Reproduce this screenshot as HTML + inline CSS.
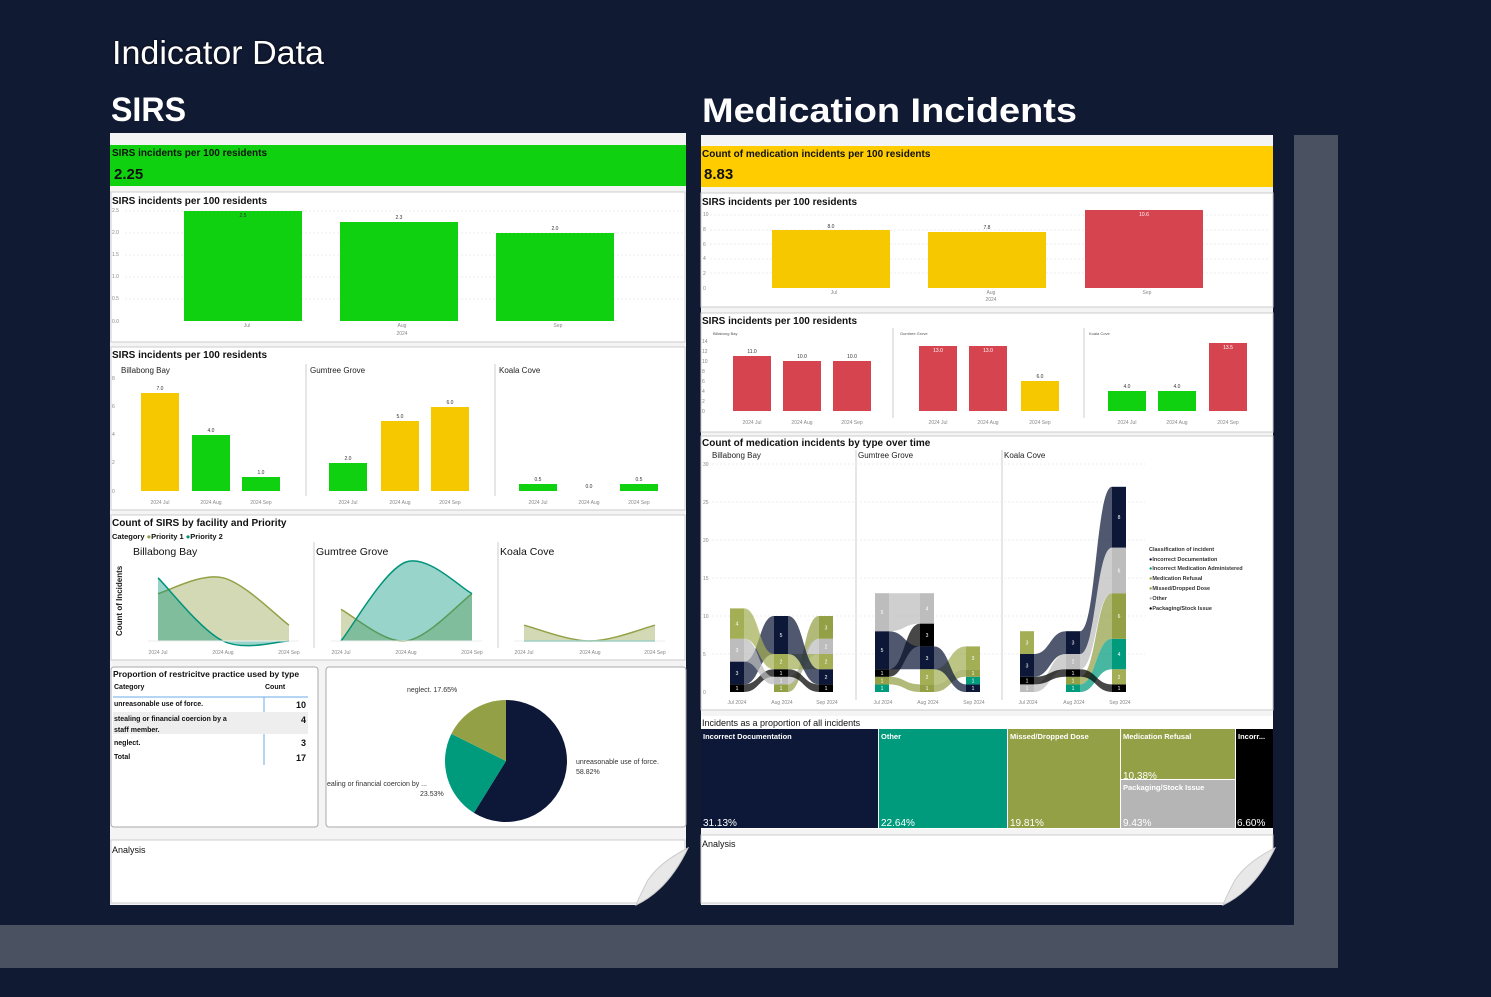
<!DOCTYPE html>
<html><head><meta charset="utf-8"><style>
html,body{margin:0;padding:0;background:#111a33;}
svg{display:block;font-family:"Liberation Sans",sans-serif;}
.t{font-size:10px;font-weight:bold;fill:#111;}
.s{font-size:5px;fill:#888;}
.l{font-size:5px;fill:#333;}
</style></head><body>
<svg id="s" width="1491" height="997" viewBox="0 0 1491 997" xmlns="http://www.w3.org/2000/svg">
<rect width="1491" height="997" fill="#111a33"/>
<rect x="1294" y="135" width="44" height="790" fill="#4a5262"/>
<rect x="0" y="925" width="1338" height="43" fill="#4a5262"/>
<text x="112" y="64" font-size="33" fill="#fff" textLength="212" lengthAdjust="spacingAndGlyphs" style="text-shadow:0 0 2px #000">Indicator Data</text>
<text x="111" y="121" font-size="34" font-weight="bold" fill="#fff" textLength="75" lengthAdjust="spacingAndGlyphs">SIRS</text>
<text x="702" y="122" font-size="34" font-weight="bold" fill="#fff" textLength="375" lengthAdjust="spacingAndGlyphs">Medication Incidents</text>

<!-- LEFT PANEL -->
<rect x="110" y="133" width="576" height="772" fill="#f4f4f4"/>
<rect x="110" y="145" width="576" height="41" fill="#0fd10f"/>
<text x="112" y="156" class="t">SIRS incidents per 100 residents</text>
<text x="114" y="179" font-size="15" font-weight="bold" fill="#111">2.25</text>

<rect x="111" y="192" width="574" height="150" fill="#fff" stroke="#ccc"/>
<text x="112" y="204" class="t" font-weight="normal">SIRS incidents per 100 residents</text>
<g class="s"><text x="112" y="212">2.5</text><text x="112" y="234">2.0</text><text x="112" y="256">1.5</text><text x="112" y="278">1.0</text><text x="112" y="300">0.5</text><text x="112" y="323">0.0</text></g>
<g stroke="#eee" stroke-dasharray="2,2"><line x1="125" y1="211" x2="684" y2="211"/><line x1="125" y1="233" x2="684" y2="233"/><line x1="125" y1="255" x2="684" y2="255"/><line x1="125" y1="277" x2="684" y2="277"/><line x1="125" y1="299" x2="684" y2="299"/></g>
<rect x="184" y="211" width="118" height="110" fill="#0fd10f"/>
<rect x="340" y="222" width="118" height="99" fill="#0fd10f"/>
<rect x="496" y="233" width="118" height="88" fill="#0fd10f"/>
<g class="l" text-anchor="middle"><text x="243" y="217">2.5</text><text x="399" y="219">2.3</text><text x="555" y="230">2.0</text>
<text x="247" y="327" class="s">Jul</text><text x="402" y="327" class="s">Aug</text><text x="402" y="335" class="s">2024</text><text x="558" y="327" class="s">Sep</text></g>

<rect x="111" y="347" width="574" height="163" fill="#fff" stroke="#ccc"/>
<text x="112" y="358" class="t" font-weight="normal">SIRS incidents per 100 residents</text>
<g font-size="8" fill="#222"><text x="121" y="373">Billabong Bay</text><text x="310" y="373">Gumtree Grove</text><text x="499" y="373">Koala Cove</text></g>
<g stroke="#ccc"><line x1="306" y1="364" x2="306" y2="496"/><line x1="495" y1="364" x2="495" y2="496"/></g>
<g class="s"><text x="112" y="380">8</text><text x="112" y="408">6</text><text x="112" y="436">4</text><text x="112" y="464">2</text><text x="112" y="493">0</text></g>
<g fill="#f5c800"><rect x="141" y="393" width="38" height="98"/><rect x="381" y="421" width="38" height="70"/><rect x="431" y="407" width="38" height="84"/></g>
<g fill="#0fd10f"><rect x="192" y="435" width="38" height="56"/><rect x="242" y="477" width="38" height="14"/><rect x="329" y="463" width="38" height="28"/><rect x="519" y="484" width="38" height="7"/><rect x="620" y="484" width="38" height="7"/></g>
<g class="l" text-anchor="middle"><text x="160" y="390">7.0</text><text x="211" y="432">4.0</text><text x="261" y="474">1.0</text><text x="348" y="460">2.0</text><text x="400" y="418">5.0</text><text x="450" y="404">6.0</text><text x="538" y="481">0.5</text><text x="589" y="488">0.0</text><text x="639" y="481">0.5</text></g>
<g class="s" text-anchor="middle"><text x="160" y="504">2024 Jul</text><text x="211" y="504">2024 Aug</text><text x="261" y="504">2024 Sep</text><text x="348" y="504">2024 Jul</text><text x="400" y="504">2024 Aug</text><text x="450" y="504">2024 Sep</text><text x="538" y="504">2024 Jul</text><text x="589" y="504">2024 Aug</text><text x="639" y="504">2024 Sep</text></g>

<rect x="111" y="515" width="574" height="145" fill="#fff" stroke="#ccc"/>
<text x="112" y="526" class="t" font-weight="normal" font-size="9.5">Count of SIRS by facility and Priority</text>
<text x="112" y="539" font-size="7.5" font-weight="bold" fill="#111">Category <tspan fill="#93a045">●</tspan>Priority 1 <tspan fill="#00937a">●</tspan>Priority 2</text>
<g font-size="10.5" fill="#111"><text x="133" y="555">Billabong Bay</text><text x="316" y="555">Gumtree Grove</text><text x="500" y="555">Koala Cove</text></g>
<g stroke="#ccc"><line x1="314" y1="542" x2="314" y2="648"/><line x1="498" y1="542" x2="498" y2="648"/></g>
<text transform="translate(122,636) rotate(-90)" font-size="8" font-weight="bold" fill="#222">Count of Incidents</text>
<g id="area"></g>
<g class="s" text-anchor="middle"><text x="158" y="654">2024 Jul</text><text x="223" y="654">2024 Aug</text><text x="289" y="654">2024 Sep</text><text x="341" y="654">2024 Jul</text><text x="406" y="654">2024 Aug</text><text x="472" y="654">2024 Sep</text><text x="524" y="654">2024 Jul</text><text x="590" y="654">2024 Aug</text><text x="655" y="654">2024 Sep</text></g>

<rect x="111" y="667" width="207" height="160" rx="3" fill="#fff" stroke="#aaa"/>
<text x="113" y="677" font-size="8.5" font-weight="bold" fill="#111">Proportion of restricitve practice used by type</text>
<g font-size="7" font-weight="bold" fill="#111"><text x="114" y="689">Category</text><text x="265" y="689">Count</text></g>
<line x1="113" y1="697" x2="308" y2="697" stroke="#6aaee8"/>
<line x1="264" y1="697" x2="264" y2="765" stroke="#6aaee8"/>
<rect x="113" y="712" width="195" height="22" fill="#eee"/>
<g font-size="7" font-weight="bold" fill="#111"><text x="114" y="706">unreasonable use of force.</text><text x="114" y="721">stealing or financial coercion by a</text><text x="114" y="732">staff member.</text><text x="114" y="745">neglect.</text><text x="114" y="759">Total</text></g>
<g font-size="9" font-weight="bold" fill="#111" text-anchor="end"><text x="306" y="708">10</text><text x="306" y="723">4</text><text x="306" y="746">3</text><text x="306" y="761">17</text></g>

<rect x="326" y="667" width="360" height="160" rx="3" fill="#fff" stroke="#aaa"/>
<g id="pie"></g>
<g font-size="7" fill="#333"><text x="407" y="692">neglect. 17.65%</text><text x="576" y="764">unreasonable use of force.</text><text x="576" y="774">58.82%</text><text x="327" y="786">ealing or financial coercion by ...</text><text x="420" y="796">23.53%</text></g>

<rect x="111" y="840" width="574" height="63" fill="#fff" stroke="#ccc"/>
<text x="112" y="853" font-size="9" fill="#111">Analysis</text>
<path d="M688 848 Q670 878 636 905 L688 905 Z" fill="#111a33"/>
<path d="M688 848 Q660 862 648 880 Q640 895 636 905 Q668 890 688 848Z" fill="#e8e8e8" stroke="#ccc"/>

<!-- RIGHT PANEL -->
<rect x="701" y="135" width="572" height="770" fill="#f4f4f4"/>
<rect x="701" y="146" width="572" height="41" fill="#ffcc00"/>
<text x="702" y="157" class="t">Count of medication incidents per 100 residents</text>
<text x="704" y="179" font-size="15" font-weight="bold" fill="#111">8.83</text>

<rect x="701" y="193" width="572" height="114" fill="#fff" stroke="#ccc"/>
<text x="702" y="205" class="t" font-weight="normal">SIRS incidents per 100 residents</text>
<g class="s"><text x="703" y="216">10</text><text x="703" y="231">8</text><text x="703" y="246">6</text><text x="703" y="260">4</text><text x="703" y="275">2</text><text x="703" y="290">0</text></g>
<g stroke="#eee" stroke-dasharray="2,2"><line x1="710" y1="215" x2="1270" y2="215"/><line x1="710" y1="230" x2="1270" y2="230"/><line x1="710" y1="244" x2="1270" y2="244"/><line x1="710" y1="259" x2="1270" y2="259"/><line x1="710" y1="273" x2="1270" y2="273"/></g>
<rect x="772" y="230" width="118" height="58" fill="#f5c800"/>
<rect x="928" y="232" width="118" height="56" fill="#f5c800"/>
<rect x="1085" y="210" width="118" height="78" fill="#d6454f"/>
<g class="l" text-anchor="middle"><text x="831" y="228">8.0</text><text x="987" y="229">7.8</text><text x="1144" y="216" fill="#fff">10.6</text>
<text x="834" y="294" class="s">Jul</text><text x="991" y="294" class="s">Aug</text><text x="991" y="301" class="s">2024</text><text x="1147" y="294" class="s">Sep</text></g>

<rect x="701" y="313" width="572" height="119" fill="#fff" stroke="#ccc"/>
<text x="702" y="324" class="t" font-weight="normal">SIRS incidents per 100 residents</text>
<g font-size="4" fill="#555"><text x="713" y="335">Billabong Bay</text><text x="900" y="335">Gumtree Grove</text><text x="1089" y="335">Koala Cove</text></g>
<g stroke="#ccc"><line x1="893" y1="328" x2="893" y2="418"/><line x1="1084" y1="328" x2="1084" y2="418"/></g>
<g class="s"><text x="702" y="343">14</text><text x="702" y="353">12</text><text x="702" y="363">10</text><text x="702" y="373">8</text><text x="702" y="383">6</text><text x="702" y="393">4</text><text x="702" y="403">2</text><text x="702" y="413">0</text></g>
<g fill="#d6454f"><rect x="733" y="356" width="38" height="55"/><rect x="783" y="361" width="38" height="50"/><rect x="833" y="361" width="38" height="50"/><rect x="919" y="346" width="38" height="65"/><rect x="969" y="346" width="38" height="65"/><rect x="1209" y="343" width="38" height="68"/></g>
<rect x="1021" y="381" width="38" height="30" fill="#f5c800"/>
<g fill="#0fd10f"><rect x="1108" y="391" width="38" height="20"/><rect x="1158" y="391" width="38" height="20"/></g>
<g class="l" text-anchor="middle"><text x="752" y="353">11.0</text><text x="802" y="358">10.0</text><text x="852" y="358">10.0</text><text x="938" y="352" fill="#fff">13.0</text><text x="988" y="352" fill="#fff">13.0</text><text x="1040" y="378">6.0</text><text x="1127" y="388">4.0</text><text x="1177" y="388">4.0</text><text x="1228" y="349" fill="#fff">13.5</text></g>
<g class="s" text-anchor="middle"><text x="752" y="424">2024 Jul</text><text x="802" y="424">2024 Aug</text><text x="852" y="424">2024 Sep</text><text x="938" y="424">2024 Jul</text><text x="988" y="424">2024 Aug</text><text x="1040" y="424">2024 Sep</text><text x="1127" y="424">2024 Jul</text><text x="1177" y="424">2024 Aug</text><text x="1228" y="424">2024 Sep</text></g>

<rect x="701" y="436" width="572" height="274" fill="#fff" stroke="#ccc"/>
<text x="702" y="446" class="t" font-weight="normal">Count of medication incidents by type over time</text>
<g font-size="8" fill="#222"><text x="712" y="458">Billabong Bay</text><text x="858" y="458">Gumtree Grove</text><text x="1004" y="458">Koala Cove</text></g>
<g stroke="#ccc"><line x1="856" y1="450" x2="856" y2="700"/><line x1="1002" y1="450" x2="1002" y2="700"/></g>
<g class="s"><text x="703" y="466">30</text><text x="703" y="504">25</text><text x="703" y="542">20</text><text x="703" y="580">15</text><text x="703" y="618">10</text><text x="703" y="656">5</text><text x="703" y="694">0</text></g>
<g stroke="#eee" stroke-dasharray="2,2"><line x1="712" y1="464" x2="1145" y2="464"/><line x1="712" y1="502" x2="1145" y2="502"/><line x1="712" y1="540" x2="1145" y2="540"/><line x1="712" y1="578" x2="1145" y2="578"/><line x1="712" y1="616" x2="1145" y2="616"/><line x1="712" y1="654" x2="1145" y2="654"/></g>
<g id="rib"></g>
<g class="s" text-anchor="middle"><text x="737" y="704">Jul 2024</text><text x="782" y="704">Aug 2024</text><text x="827" y="704">Sep 2024</text><text x="883" y="704">Jul 2024</text><text x="928" y="704">Aug 2024</text><text x="974" y="704">Sep 2024</text><text x="1028" y="704">Jul 2024</text><text x="1074" y="704">Aug 2024</text><text x="1120" y="704">Sep 2024</text></g>
<g font-size="5.5" font-weight="bold" fill="#333"><text x="1149" y="551">Classification of incident</text>
<text x="1149" y="561"><tspan fill="#0d1838">●</tspan>Incorrect Documentation</text>
<text x="1149" y="570"><tspan fill="#009b7d">●</tspan>Incorrect Medication Administered</text>
<text x="1149" y="580"><tspan fill="#93a045">●</tspan>Medication Refusal</text>
<text x="1149" y="590"><tspan fill="#93a045">●</tspan>Missed/Dropped Dose</text>
<text x="1149" y="600"><tspan fill="#bbb">●</tspan>Other</text>
<text x="1149" y="610"><tspan fill="#000">●</tspan>Packaging/Stock Issue</text></g>

<rect x="701" y="716" width="572" height="113" fill="#fff"/>
<text x="702" y="726" font-size="9" fill="#111">Incidents as a proportion of all incidents</text>
<rect x="701" y="729" width="177" height="99" fill="#0d1838"/>
<rect x="879" y="729" width="128" height="99" fill="#009b7d"/>
<rect x="1008" y="729" width="112" height="99" fill="#93a045"/>
<rect x="1121" y="729" width="114" height="50" fill="#93a045"/>
<rect x="1121" y="780" width="114" height="48" fill="#b5b5b5"/>
<rect x="1236" y="729" width="37" height="99" fill="#000"/>
<g font-size="7.5" font-weight="bold" fill="#fff"><text x="703" y="739">Incorrect Documentation</text><text x="881" y="739">Other</text><text x="1010" y="739">Missed/Dropped Dose</text><text x="1123" y="739">Medication Refusal</text><text x="1123" y="790">Packaging/Stock Issue</text><text x="1238" y="739">Incorr...</text></g>
<g font-size="10" fill="#fff"><text x="703" y="826">31.13%</text><text x="881" y="826">22.64%</text><text x="1010" y="826">19.81%</text><text x="1123" y="779">10.38%</text><text x="1123" y="826">9.43%</text><text x="1237" y="826">6.60%</text></g>

<rect x="701" y="835" width="572" height="68" fill="#fff" stroke="#ccc"/>
<text x="702" y="847" font-size="9" fill="#111">Analysis</text>
<path d="M1275 848 Q1257 878 1223 905 L1275 905 Z" fill="#111a33"/>
<path d="M1275 848 Q1247 862 1235 880 Q1227 895 1223 905 Q1255 890 1275 848Z" fill="#e8e8e8" stroke="#ccc"/>
</svg>
<script>
var NS="http://www.w3.org/2000/svg";
function el(t,a,p){var e=document.createElementNS(NS,t);for(var k in a)e.setAttribute(k,a[k]);p.appendChild(e);return e;}
// area chart
var ag=document.getElementById('area');
function Y(v){return 641-v*15.8;}
function spline(xs,vs){var p=xs.map(function(x,i){return [x,Y(vs[i])];});var d="M"+p[0][0]+","+p[0][1];
for(var i=0;i<p.length-1;i++){var p0=p[i-1]||p[i],p1=p[i],p2=p[i+1],p3=p[i+2]||p2;
d+=" C"+(p1[0]+(p2[0]-p0[0])/6)+","+(p1[1]+(p2[1]-p0[1])/6)+" "+(p2[0]-(p3[0]-p1[0])/6)+","+(p2[1]-(p3[1]-p1[1])/6)+" "+p2[0]+","+p2[1];}return d;}
var fac=[[[158,223,289],[3,4,1],[4,0,0]],[[341,406,472],[2,0,3],[0,5,3]],[[524,590,655],[1,0,1],[0,0,0]]];
fac.forEach(function(f){var xs=f[0];
[[f[1],"#93a045","rgba(147,160,69,0.4)"],[f[2],"#00937a","rgba(0,147,122,0.4)"]].forEach(function(s){
var d=spline(xs,s[0]);el('path',{d:d+" L"+xs[2]+",641 L"+xs[0]+",641Z",fill:s[2]},ag);
el('path',{d:d,fill:"none",stroke:s[1],"stroke-width":1.5},ag);});
el('line',{x1:xs[0]-10,y1:641,x2:xs[2]+10,y2:641,stroke:"#eee"},ag);});
// pie
var pg=document.getElementById('pie');var cx=506,cy=761,r=61,a=-Math.PI/2;
[[0.5882,"#0d1838"],[0.2353,"#009b7d"],[0.1765,"#93a045"]].forEach(function(s){var b=a+s[0]*2*Math.PI;
el('path',{d:"M"+cx+","+cy+" L"+(cx+r*Math.cos(a))+","+(cy+r*Math.sin(a))+" A"+r+","+r+" 0 "+(s[0]>0.5?1:0)+" 1 "+(cx+r*Math.cos(b))+","+(cy+r*Math.sin(b))+"Z",fill:s[1]},pg);a=b;});
// ribbon
var rg=document.getElementById('rib');
var C={D:"#0d1838",I:"#009b7d",M:"#93a045",X:"#a3ae55",O:"#bdbdbd",P:"#000"};
var U=7.6,Y0=692,W=14;
var F=[[[730,[["P",1],["D",3],["O",3],["X",4]]],[774,[["M",1],["O",1],["P",1],["X",2],["D",5]]],[819,[["P",1],["D",2],["X",2],["O",2],["M",3]]]],
[[875,[["I",1],["M",1],["P",1],["D",5],["O",5]]],[920,[["M",1],["X",2],["D",3],["P",3],["O",4]]],[966,[["D",1],["I",1],["M",1],["X",3]]]],
[[1020,[["O",1],["P",1],["D",3],["X",3]]],[1066,[["I",1],["M",1],["P",1],["O",2],["D",3]]],[1112,[["P",1],["X",2],["I",4],["M",6],["O",6],["D",8]]]]];
F.forEach(function(cols){var pos=cols.map(function(c){var y=Y0,m={};c[1].forEach(function(s){m[s[0]]=[y-s[1]*U,y,s[1]];y-=s[1]*U;});return m;});
for(var i=0;i<cols.length-1;i++){var x1=cols[i][0]+W,x2=cols[i+1][0],xm=(x1+x2)/2;
for(var k in pos[i]){var q=pos[i+1][k];if(!q)continue;var p=pos[i][k];
el('path',{d:"M"+x1+","+p[0]+" C"+xm+","+p[0]+" "+xm+","+q[0]+" "+x2+","+q[0]+" L"+x2+","+q[1]+" C"+xm+","+q[1]+" "+xm+","+p[1]+" "+x1+","+p[1]+"Z",fill:C[k],opacity:0.72},rg);}}
cols.forEach(function(c,i){for(var k in pos[i]){var p=pos[i][k];el('rect',{x:c[0],y:p[0],width:W,height:p[1]-p[0],fill:C[k]},rg);
var t=el('text',{x:c[0]+W/2,y:(p[0]+p[1])/2+2,"font-size":5,fill:"#fff","text-anchor":"middle"},rg);t.textContent=p[2];}});});
</script>
</body></html>
